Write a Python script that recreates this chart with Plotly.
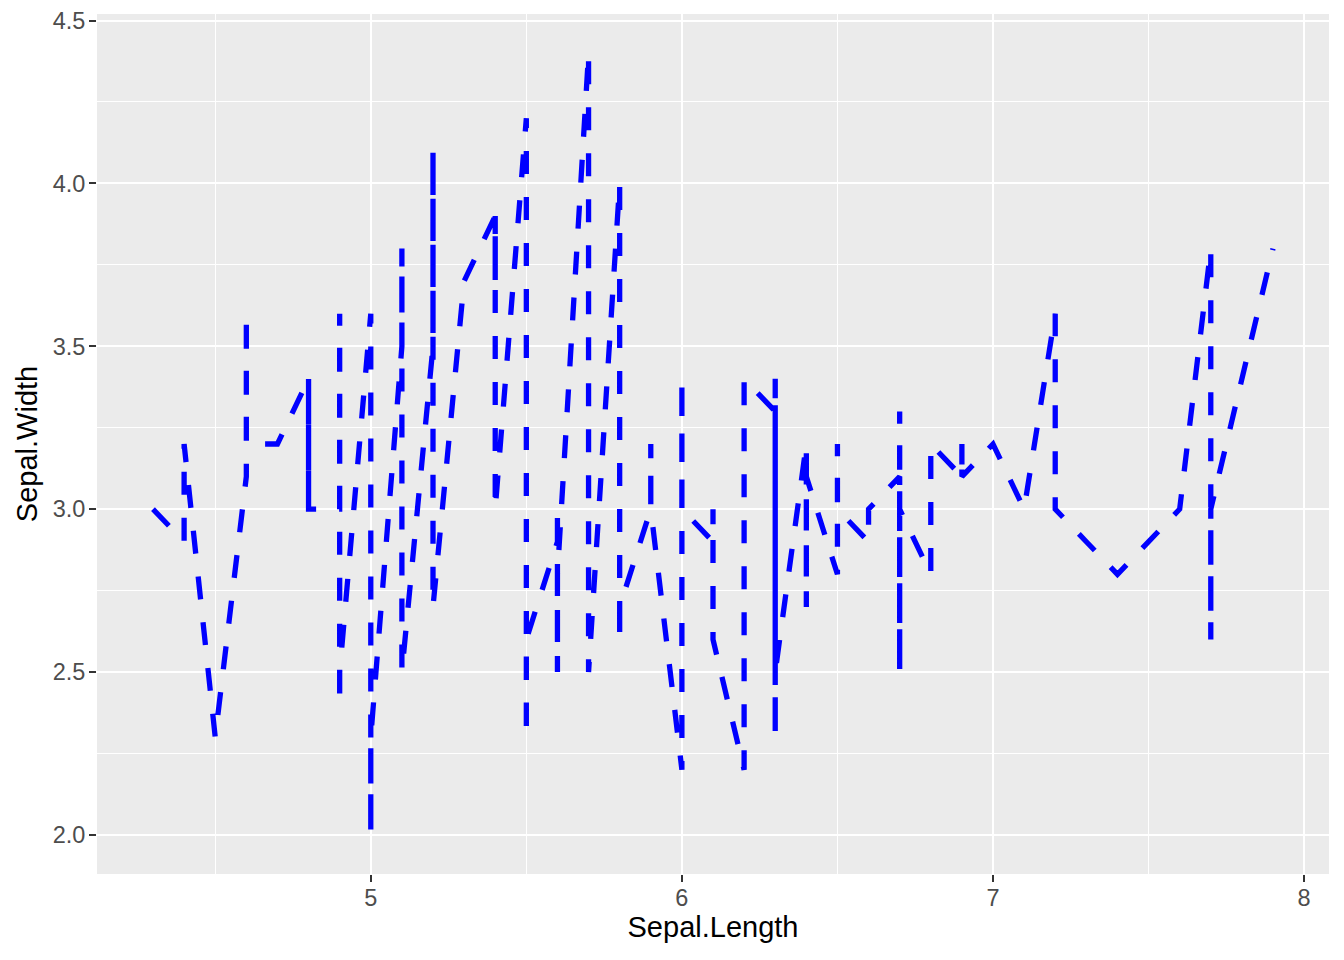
import plotly.graph_objects as go

sepal_length = [5.1,4.9,4.7,4.6,5.0,5.4,4.6,5.0,4.4,4.9,5.4,4.8,4.8,4.3,5.8,5.7,5.4,5.1,5.7,5.1,
                5.4,5.1,4.6,5.1,4.8,5.0,5.0,5.2,5.2,4.7,4.8,5.4,5.2,5.5,4.9,5.0,5.5,4.9,4.4,5.1,
                5.0,4.5,4.4,5.0,5.1,4.8,5.1,4.6,5.3,5.0,7.0,6.4,6.9,5.5,6.5,5.7,6.3,4.9,6.6,5.2,
                5.0,5.9,6.0,6.1,5.6,6.7,5.6,5.8,6.2,5.6,5.9,6.1,6.3,6.1,6.4,6.6,6.8,6.7,6.0,5.7,
                5.5,5.5,5.8,6.0,5.4,6.0,6.7,6.3,5.6,5.5,5.5,6.1,5.8,5.0,5.6,5.7,5.7,6.2,5.1,5.7,
                6.3,5.8,7.1,6.3,6.5,7.6,4.9,7.3,6.7,7.2,6.5,6.4,6.8,5.7,5.8,6.4,6.5,7.7,7.7,6.0,
                6.9,5.6,7.7,6.3,6.7,7.2,6.2,6.1,6.4,7.2,7.4,7.9,6.4,6.3,6.1,7.7,6.3,6.4,6.0,6.9,
                6.7,6.9,5.8,6.8,6.7,6.7,6.3,6.5,6.2,5.9]
sepal_width = [3.5,3.0,3.2,3.1,3.6,3.9,3.4,3.4,2.9,3.1,3.7,3.4,3.0,3.0,4.0,4.4,3.9,3.5,3.8,3.8,
               3.4,3.7,3.6,3.3,3.4,3.0,3.4,3.5,3.4,3.2,3.1,3.4,4.1,4.2,3.1,3.2,3.5,3.6,3.0,3.4,
               3.5,2.3,3.2,3.5,3.8,3.0,3.8,3.2,3.7,3.3,3.2,3.2,3.1,2.3,2.8,2.8,3.3,2.4,2.9,2.7,
               2.0,3.0,2.2,2.9,2.9,3.1,3.0,2.7,2.2,2.5,3.2,2.8,2.5,2.8,2.9,3.0,2.8,3.0,2.9,2.6,
               2.4,2.4,2.7,2.7,3.0,3.4,3.1,2.3,3.0,2.5,2.6,3.0,2.6,2.3,2.7,3.0,2.9,2.9,2.5,2.8,
               3.3,2.7,3.0,2.9,3.0,3.0,2.5,2.9,2.5,3.6,3.2,2.7,3.0,2.5,2.8,3.2,3.0,3.8,2.6,2.2,
               3.2,2.8,2.8,2.7,3.3,3.2,2.8,3.0,2.8,3.0,2.8,3.8,2.8,2.8,2.6,3.0,3.4,3.1,3.0,3.1,
               3.1,3.1,2.7,3.2,3.3,3.0,2.5,3.0,3.4,3.0]

x_ticks = [5, 6, 7, 8]
y_ticks = [2.0, 2.5, 3.0, 3.5, 4.0, 4.5]
y_tick_labels = ["2.0", "2.5", "3.0", "3.5", "4.0", "4.5"]

# geom_line: stable sort by x
order = sorted(range(len(sepal_length)), key=lambda i: sepal_length[i])
xs = [sepal_length[i] for i in order]
ys = [sepal_width[i] for i in order]

fig = go.Figure(go.Scatter(
    x=xs, y=ys, mode="lines",
    line=dict(color="#0000FF", width=5.3, dash="23px,23px"),
    hoverinfo="skip",
))

font_family = "Liberation Sans, Arial, sans-serif"
axis_common = dict(
    showgrid=True, gridcolor="#FFFFFF", gridwidth=2.4,
    zeroline=False, showline=False,
    ticks="outside", ticklen=7, tickwidth=2.4, tickcolor="#333333",
    tickfont=dict(family=font_family, size=23.5, color="#4D4D4D"),
    automargin=False,
)
fig.update_xaxes(
    **axis_common,
    range=[4.12, 8.08], tickvals=x_ticks, ticktext=[str(v) for v in x_ticks],
    ticklabelstandoff=-4,
    minor=dict(dtick=0.5, tick0=4.5, showgrid=True, gridcolor="#FFFFFF", gridwidth=1.2, ticks=""),
    title=dict(text="Sepal.Length", font=dict(family=font_family, size=29, color="#000000"), standoff=3),
)
fig.update_yaxes(
    **axis_common,
    range=[1.88, 4.52], tickvals=y_ticks, ticktext=y_tick_labels,
    ticklabelstandoff=-1,
    minor=dict(dtick=0.25, tick0=2.25, showgrid=True, gridcolor="#FFFFFF", gridwidth=1.2, ticks=""),
    title=dict(text="Sepal.Width", font=dict(family=font_family, size=29, color="#000000"), standoff=6),
)
fig.update_layout(
    width=1344, height=960,
    margin=dict(l=97, r=15, t=14, b=86),
    plot_bgcolor="#EBEBEB", paper_bgcolor="#FFFFFF",
    showlegend=False,
)
fig.write_html("out.html", config={"displayModeBar": False},
               post_script="document.body.style.margin='0';document.body.style.overflow='hidden';")
